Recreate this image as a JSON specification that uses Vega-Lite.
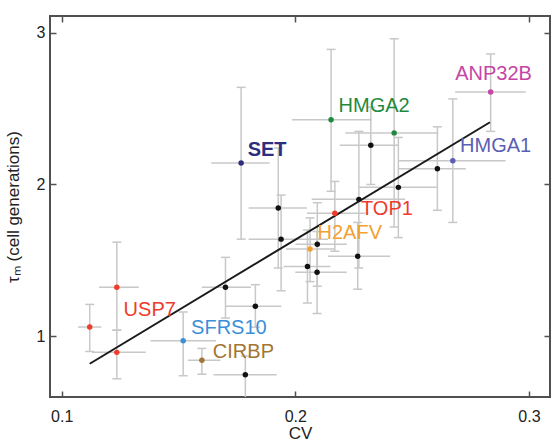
{
  "$schema": "https://vega.github.io/schema/vega-lite/v6.json",
  "width": 500,
  "height": 381,
  "autosize": {"type": "none"},
  "padding": {"left": 50, "top": 16, "right": 2, "bottom": 49},
  "config": {
    "font": "Liberation Sans",
    "view": {"stroke": "#505050", "strokeWidth": 2},
    "axis": {
      "grid": false,
      "domain": false,
      "ticks": true,
      "tickColor": "#505050",
      "tickWidth": 1.5,
      "tickSize": -6,
      "labelFontSize": 16,
      "labelColor": "#222222",
      "titleFontSize": 17,
      "titleFontWeight": "normal",
      "titleColor": "#222222"
    }
  },
  "datasets": {
    "pts": [
      {"g": "USP7", "cv": 0.112, "tau": 1.061, "cvlo": 0.107, "cvhi": 0.117, "tlo": 0.90, "thi": 1.21},
      {"g": "USP7", "cv": 0.1236, "tau": 1.323, "cvlo": 0.116, "cvhi": 0.133, "tlo": 1.04, "thi": 1.62},
      {"g": "USP7", "cv": 0.1236, "tau": 0.894, "cvlo": 0.113, "cvhi": 0.136, "tlo": 0.72, "thi": 1.04},
      {"g": "SFRS10", "cv": 0.152, "tau": 0.971, "cvlo": 0.138, "cvhi": 0.166, "tlo": 0.74, "thi": 1.16},
      {"g": "CIRBP", "cv": 0.160, "tau": 0.842, "cvlo": 0.154, "cvhi": 0.168, "tlo": 0.75, "thi": 0.92},
      {"g": "SET", "cv": 0.1768, "tau": 2.142, "cvlo": 0.164, "cvhi": 0.189, "tlo": 1.64, "thi": 2.64},
      {"g": "black", "cv": 0.1701, "tau": 1.323, "cvlo": 0.160, "cvhi": 0.181, "tlo": 1.12, "thi": 1.52},
      {"g": "black", "cv": 0.1829, "tau": 1.198, "cvlo": 0.170, "cvhi": 0.194, "tlo": 1.06, "thi": 1.34},
      {"g": "black", "cv": 0.1786, "tau": 0.747, "cvlo": 0.165, "cvhi": 0.192, "tlo": 0.55, "thi": 0.87},
      {"g": "black", "cv": 0.1927, "tau": 1.845, "cvlo": 0.180, "cvhi": 0.205, "tlo": 1.45, "thi": 2.24},
      {"g": "black", "cv": 0.1939, "tau": 1.640, "cvlo": 0.180, "cvhi": 0.214, "tlo": 1.30, "thi": 1.93},
      {"g": "black", "cv": 0.2323, "tau": 2.258, "cvlo": 0.219, "cvhi": 0.244, "tlo": 2.00, "thi": 2.51},
      {"g": "black", "cv": 0.2608, "tau": 2.104, "cvlo": 0.244, "cvhi": 0.273, "tlo": 1.83, "thi": 2.38},
      {"g": "black", "cv": 0.2441, "tau": 1.981, "cvlo": 0.227, "cvhi": 0.261, "tlo": 1.65, "thi": 2.31},
      {"g": "black", "cv": 0.2272, "tau": 1.902, "cvlo": 0.207, "cvhi": 0.247, "tlo": 1.45, "thi": 2.35},
      {"g": "TOP1", "cv": 0.2169, "tau": 1.811, "cvlo": 0.205, "cvhi": 0.230, "tlo": 1.56, "thi": 2.02},
      {"g": "H2AFV", "cv": 0.2063, "tau": 1.575, "cvlo": 0.196, "cvhi": 0.217, "tlo": 1.36, "thi": 1.78},
      {"g": "black", "cv": 0.2094, "tau": 1.607, "cvlo": 0.200, "cvhi": 0.222, "tlo": 1.33, "thi": 1.88},
      {"g": "black", "cv": 0.2267, "tau": 1.527, "cvlo": 0.214, "cvhi": 0.2406, "tlo": 1.31, "thi": 1.75},
      {"g": "black", "cv": 0.2052, "tau": 1.459, "cvlo": 0.195, "cvhi": 0.215, "tlo": 1.22, "thi": 1.70},
      {"g": "black", "cv": 0.2093, "tau": 1.422, "cvlo": 0.200, "cvhi": 0.222, "tlo": 1.15, "thi": 1.69},
      {"g": "HMGA2", "cv": 0.2153, "tau": 2.427, "cvlo": 0.1986, "cvhi": 0.2328, "tlo": 1.955, "thi": 2.89},
      {"g": "HMGA2", "cv": 0.2423, "tau": 2.340, "cvlo": 0.2214, "cvhi": 0.2612, "tlo": 1.72, "thi": 2.96},
      {"g": "HMGA1", "cv": 0.2674, "tau": 2.157, "cvlo": 0.2444, "cvhi": 0.290, "tlo": 1.75, "thi": 2.564},
      {"g": "ANP32B", "cv": 0.2836, "tau": 2.610, "cvlo": 0.2684, "cvhi": 0.2986, "tlo": 2.35, "thi": 2.86}
    ],
    "fit": [
      {"cv": 0.112, "tau": 0.819},
      {"cv": 0.2833, "tau": 2.41}
    ],
    "labels": [
      {"g": "USP7", "label": "USP7", "lx": 0.1265, "ly": 1.172},
      {"g": "SFRS10", "label": "SFRS10", "lx": 0.1554, "ly": 1.055},
      {"g": "CIRBP", "label": "CIRBP", "lx": 0.1647, "ly": 0.894},
      {"g": "HMGA2", "label": "HMGA2", "lx": 0.2185, "ly": 2.516},
      {"g": "ANP32B", "label": "ANP32B", "lx": 0.2684, "ly": 2.725},
      {"g": "HMGA1", "label": "HMGA1", "lx": 0.2705, "ly": 2.252},
      {"g": "TOP1", "label": "TOP1", "lx": 0.2281, "ly": 1.838},
      {"g": "H2AFV", "label": "H2AFV", "lx": 0.2095, "ly": 1.68}
    ],
    "boldlabels": [
      {"g": "SET", "label": "SET", "lx": 0.1796, "ly": 2.23}
    ]
  },
  "layer": [
    {
      "data": {"name": "pts"},
      "mark": {"type": "rule", "color": "#c8c8c8", "strokeWidth": 1.5, "clip": true},
      "encoding": {
        "x": {"field": "cvlo", "type": "quantitative", "scale": {"domain": [0.095, 0.309], "nice": false, "zero": false},
              "axis": {"orient": "bottom", "values": [0.1, 0.2, 0.3], "format": ".1f", "title": "CV", "labelPadding": 17, "titlePadding": 1}},
        "x2": {"field": "cvhi"},
        "y": {"field": "tau", "type": "quantitative", "scale": {"domain": [0.6, 3.11], "nice": false, "zero": false},
              "axis": {"orient": "left", "values": [1, 2, 3], "format": "d", "title": "τₘ (cell generations)", "labelPadding": 11, "titlePadding": 14}}
      }
    },
    {
      "data": {"name": "pts"},
      "mark": {"type": "rule", "color": "#c8c8c8", "strokeWidth": 1.5, "clip": true},
      "encoding": {
        "x": {"field": "cv", "type": "quantitative", "scale": {"domain": [0.095, 0.309], "nice": false, "zero": false},
              "axis": {"orient": "top", "values": [0.1, 0.2, 0.3], "labels": false, "title": null}},
        "y": {"field": "tlo", "type": "quantitative", "scale": {"domain": [0.6, 3.11], "nice": false, "zero": false},
              "axis": {"orient": "right", "values": [1, 2, 3], "labels": false, "title": null}},
        "y2": {"field": "thi"}
      }
    },
    {
      "data": {"name": "pts"},
      "mark": {"type": "tick", "orient": "horizontal", "color": "#c8c8c8", "thickness": 1.5, "size": 9, "opacity": 1, "clip": true},
      "encoding": {
        "x": {"field": "cv", "type": "quantitative", "scale": {"domain": [0.095, 0.309], "nice": false, "zero": false}, "axis": null},
        "y": {"field": "tlo", "type": "quantitative", "scale": {"domain": [0.6, 3.11], "nice": false, "zero": false}, "axis": null}
      }
    },
    {
      "data": {"name": "pts"},
      "mark": {"type": "tick", "orient": "horizontal", "color": "#c8c8c8", "thickness": 1.5, "size": 9, "opacity": 1, "clip": true},
      "encoding": {
        "x": {"field": "cv", "type": "quantitative", "scale": {"domain": [0.095, 0.309], "nice": false, "zero": false}, "axis": null},
        "y": {"field": "thi", "type": "quantitative", "scale": {"domain": [0.6, 3.11], "nice": false, "zero": false}, "axis": null}
      }
    },
    {
      "data": {"name": "fit"},
      "mark": {"type": "line", "color": "#1a1a1a", "strokeWidth": 2},
      "encoding": {
        "x": {"field": "cv", "type": "quantitative", "scale": {"domain": [0.095, 0.309], "nice": false, "zero": false}, "axis": null},
        "y": {"field": "tau", "type": "quantitative", "scale": {"domain": [0.6, 3.11], "nice": false, "zero": false}, "axis": null}
      }
    },
    {
      "data": {"name": "pts"},
      "mark": {"type": "point", "filled": true, "opacity": 1, "size": 30},
      "encoding": {
        "x": {"field": "cv", "type": "quantitative", "scale": {"domain": [0.095, 0.309], "nice": false, "zero": false}, "axis": null},
        "y": {"field": "tau", "type": "quantitative", "scale": {"domain": [0.6, 3.11], "nice": false, "zero": false}, "axis": null},
        "color": {"field": "g", "type": "nominal", "legend": null,
                  "scale": {"domain": ["black", "USP7", "TOP1", "SFRS10", "CIRBP", "SET", "HMGA2", "HMGA1", "ANP32B", "H2AFV"],
                            "range": ["#111111", "#ee3b2b", "#ee3b2b", "#3b8fd8", "#a27530", "#2d2f7e", "#1f8a3e", "#5b5fb3", "#c545a6", "#f5a033"]}}
      }
    },
    {
      "data": {"name": "labels"},
      "mark": {"type": "text", "align": "left", "baseline": "middle", "fontSize": 20},
      "encoding": {
        "x": {"field": "lx", "type": "quantitative", "scale": {"domain": [0.095, 0.309], "nice": false, "zero": false}, "axis": null},
        "y": {"field": "ly", "type": "quantitative", "scale": {"domain": [0.6, 3.11], "nice": false, "zero": false}, "axis": null},
        "text": {"field": "label"},
        "color": {"field": "g", "type": "nominal", "legend": null}
      }
    },
    {
      "data": {"name": "boldlabels"},
      "mark": {"type": "text", "align": "left", "baseline": "middle", "fontSize": 20, "fontWeight": "bold"},
      "encoding": {
        "x": {"field": "lx", "type": "quantitative", "scale": {"domain": [0.095, 0.309], "nice": false, "zero": false}, "axis": null},
        "y": {"field": "ly", "type": "quantitative", "scale": {"domain": [0.6, 3.11], "nice": false, "zero": false}, "axis": null},
        "text": {"field": "label"},
        "color": {"field": "g", "type": "nominal", "legend": null}
      }
    }
  ],
  "resolve": {"axis": {"x": "independent", "y": "independent"}}
}
